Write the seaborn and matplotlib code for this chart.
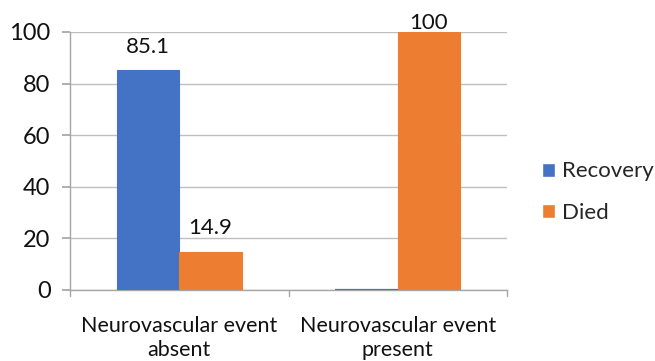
import matplotlib
matplotlib.use("Agg")
import matplotlib.pyplot as plt
import seaborn as sns
import pandas as pd

categories = ["Neurovascular event\nabsent", "Neurovascular event\npresent"]
series = ["Recovery", "Died"]
recovery = [85.1, 0.0]
died = [14.9, 100.0]
yticks = [0, 20, 40, 60, 80, 100]

df = pd.DataFrame({
    "category": categories * 2,
    "outcome": [series[0]] * 2 + [series[1]] * 2,
    "value": recovery + died,
})

sns.set_theme(style="white")
plt.rcParams['font.family'] = ['Lato', 'DejaVu Sans']

fig = plt.figure(figsize=(6.55, 3.61), dpi=100)
ax = fig.add_axes([70/655, 1 - 290/361, (507 - 70)/655, (290 - 32)/361])

palette = {"Recovery": "#4472C4", "Died": "#ED7D31"}
sns.barplot(data=df, x="category", y="value", hue="outcome", hue_order=series,
            order=categories, palette=palette, width=0.57, gap=0, saturation=1,
            ax=ax, legend=True)

txt = "#111111"
for cont, col in zip(ax.containers, ["#4472C4", "#ED7D31"]):
    for b in cont:
        b.set_edgecolor(col)
        b.set_linewidth(0.8 if b.get_height() > 0 else 1.6)
        b.set_zorder(3)
    labels = [("%g" % b.get_height()) if b.get_height() > 0 else "" for b in cont]
    texts = ax.bar_label(cont, labels=labels, padding=10, fontsize=16, color=txt,
                         clip_on=False)
    for t, b in zip(texts, cont):
        if b.get_height() >= 100:
            t.xyann = (0, -1)

ax.set_ylim(0, 100)
ax.set_xlim(-0.5, 1.5)
ax.set_yticks(yticks)
ax.yaxis.grid(True, color="#bfbfbf", linewidth=1.0)
ax.set_axisbelow(True)
ax.set_xlabel("")
ax.set_ylabel("")
for s in ["top", "right"]:
    ax.spines[s].set_visible(False)
ax.spines["left"].set_color("#a6a6a6")
ax.spines["bottom"].set_color("#a6a6a6")
ax.spines["left"].set_linewidth(1.0)
ax.spines["bottom"].set_linewidth(1.0)

ax.tick_params(axis="y", length=6, color="#a6a6a6", labelsize=17, labelcolor=txt, pad=8, left=True)
ax.set_xticks([0, 1])
ax.set_xticklabels(categories, fontsize=15.5, color=txt, linespacing=1.25)
ax.tick_params(axis="x", length=0, pad=19)
for xb in [-0.5, 0.5, 1.5]:
    ax.plot([xb, xb], [0, -2.5], color="#a6a6a6", lw=1.0, clip_on=False,
            transform=ax.transData)

handles, labs = ax.get_legend_handles_labels()
ax.legend(handles, labs, loc="center left", bbox_to_anchor=(542/655, 1 - 192/361),
          bbox_transform=fig.transFigure, frameon=False, fontsize=16, borderpad=0,
          borderaxespad=0,
          handlelength=0.6, handleheight=0.6, handletextpad=0.3, labelspacing=0.95)

fig.savefig("out.png", dpi=100)
